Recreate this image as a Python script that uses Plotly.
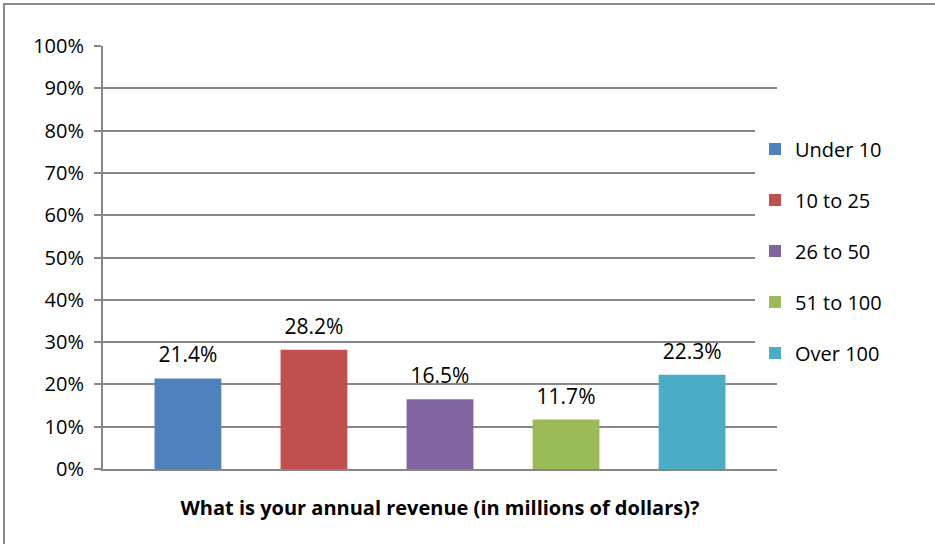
import plotly.graph_objects as go

# Survey responses: annual revenue bands (millions of dollars)
bands = ["Under 10", "10 to 25", "26 to 50", "51 to 100", "Over 100"]
shares = [0.214, 0.282, 0.165, 0.117, 0.223]
colors = ["#4F81BD", "#C0504D", "#8064A2", "#9BBB59", "#4BACC6"]
question = "What is your annual revenue (in millions of dollars)?"

FONT = "Open Sans"
GRID = "#878787"

# large blank spacers deepen the label's line box so it sits a bit higher
PAD = "<span style='font-size:44px'> </span>"

fig = go.Figure()
for name, val, col in zip(bands, shares, colors):
    fig.add_trace(go.Bar(
        x=[""], y=[val], name=name,
        marker=dict(color=col, line=dict(width=0)),
        text=[f"{PAD}{val * 100:.1f}%{PAD}"], textposition="outside",
        textfont=dict(family=FONT, size=21, color="#000000"),
        constraintext="none",
        cliponaxis=False,
        legendgroup=name,
    ))

W, H = 935, 544
L, R, T, B = 103, 158, 46, 75
pw, ph = W - L - R, H - T - B

fig.update_layout(
    width=W, height=H,
    margin=dict(l=L, r=R, t=T, b=B),
    paper_bgcolor="white", plot_bgcolor="white",
    barmode="group", bargap=0.065, bargroupgap=0.47,
    font=dict(family=FONT, size=20, color="#000000"),
    showlegend=True,
    legend=dict(
        x=(755 - L) / pw, xanchor="left",
        y=(469 - 251) / ph, yanchor="middle",
        bgcolor="white", borderwidth=0,
        traceorder="grouped", tracegroupgap=22,
        font=dict(family=FONT, size=20, color="#000000"),
    ),
    xaxis=dict(
        showticklabels=False, ticks="",
        showline=True, linecolor=GRID, linewidth=2,
        showgrid=False, zeroline=False,
        title=dict(text=f"<b>{question}</b>", standoff=31,
                   font=dict(family=FONT, size=20, color="#000000")),
    ),
    yaxis=dict(
        range=[0, 1], dtick=0.1, tickformat=".0%",
        showgrid=True, gridcolor=GRID, gridwidth=1.5,
        showline=True, linecolor=GRID, linewidth=2,
        ticks="outside", ticklen=7, tickcolor=GRID, tickwidth=1.5,
        ticklabelstandoff=6,
        zeroline=False,
        tickfont=dict(family=FONT, size=20, color="#000000"),
    ),
    shapes=[dict(
        type="rect", xref="paper", yref="paper",
        x0=(4 - L) / pw, x1=(W + 10 - L) / pw,
        y0=-(H + 10 - (T + ph)) / ph, y1=1 + (T - 4) / ph,
        line=dict(color="#8a8a8a", width=2), fillcolor="rgba(0,0,0,0)",
        layer="below",
    )],
)

fig.write_html("out.html")
